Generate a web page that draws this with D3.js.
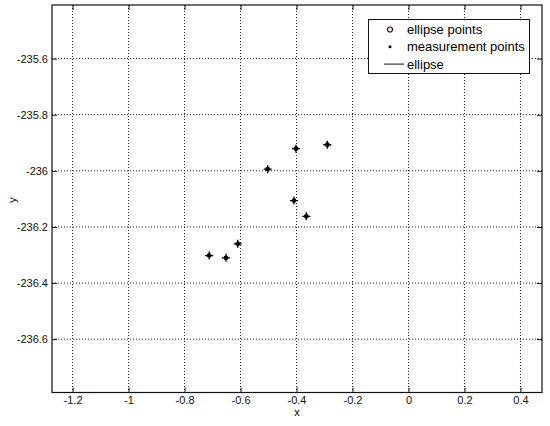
<!DOCTYPE html>
<html>
<head>
<meta charset="utf-8">
<script src="https://cdn.jsdelivr.net/npm/d3@7"></script>
<style>
  body { margin: 0; background: #fff; }
  svg { display: block; font-family: "Liberation Sans", Arial, sans-serif; }
  .grid line { stroke: #222; stroke-width: 1; stroke-dasharray: 1,2; }
  .tick-label { font-size: 11px; fill: #111; }
</style>
</head>
<body>
<div id="chart"></div>
<script>
var pointX = [-0.712, -0.652, -0.610, -0.503, -0.402, -0.290, -0.409, -0.365];
var pointY = [-236.302, -236.310, -236.260, -235.994, -235.921, -235.907, -236.106, -236.162];

var xTicks = [-1.2, -1, -0.8, -0.6, -0.4, -0.2, 0, 0.2, 0.4];
var xTickLabels = ['-1.2', '-1', '-0.8', '-0.6', '-0.4', '-0.2', '0', '0.2', '0.4'];
var yTicks = [-235.6, -235.8, -236, -236.2, -236.4, -236.6];
var yTickLabels = ['-235.6', '-235.8', '-236', '-236.2', '-236.4', '-236.6'];

var legendLabels = ['ellipse points', 'measurement points', 'ellipse'];

var width = 550, height = 426;
var plotLeft = 52, plotRight = 542, plotTop = 5, plotBottom = 392.5;

var x = d3.scaleLinear().domain([-1.2735, 0.477]).range([plotLeft, plotRight]);
var y = d3.scaleLinear().domain([-236.79, -235.409]).range([plotBottom, plotTop]);

var svg = d3.select('#chart').append('svg')
  .attr('width', width)
  .attr('height', height);

//grid
var grid = svg.append('g').attr('class', 'grid');
grid.selectAll('.gx')
  .data(xTicks)
  .enter().append('line')
    .attr('class', 'gx')
    .attr('x1', function(d) { return x(d); })
    .attr('x2', function(d) { return x(d); })
    .attr('y1', plotTop)
    .attr('y2', plotBottom);
grid.selectAll('.gy')
  .data(yTicks)
  .enter().append('line')
    .attr('class', 'gy')
    .attr('x1', plotLeft)
    .attr('x2', plotRight)
    .attr('y1', function(d) { return y(d); })
    .attr('y2', function(d) { return y(d); });

//axes, ticks pointing inward on all sides
var tickLen = 5;
svg.append('g')
  .attr('transform', 'translate(0,' + plotBottom + ')')
  .call(d3.axisBottom(x).tickValues(xTicks).tickSizeInner(-tickLen).tickSizeOuter(0)
    .tickFormat(function(d, i) { return xTickLabels[i]; }))
  .call(function(g) {
    g.selectAll('text').attr('class', 'tick-label').attr('y', 4).attr('dy', '0.71em').style('font-size', '11px');
  });
svg.append('g')
  .attr('transform', 'translate(0,' + plotTop + ')')
  .call(d3.axisTop(x).tickValues(xTicks).tickSizeInner(-tickLen).tickSizeOuter(0).tickFormat(''));
svg.append('g')
  .attr('transform', 'translate(' + plotLeft + ',0)')
  .call(d3.axisLeft(y).tickValues(yTicks).tickSizeInner(-tickLen).tickSizeOuter(0)
    .tickFormat(function(d, i) { return yTickLabels[i]; }))
  .call(function(g) {
    g.selectAll('text').attr('class', 'tick-label').attr('x', -4).style('font-size', '11px');
  });
svg.append('g')
  .attr('transform', 'translate(' + plotRight + ',0)')
  .call(d3.axisRight(y).tickValues(yTicks).tickSizeInner(-tickLen).tickSizeOuter(0).tickFormat(''));

svg.selectAll('.tick line').attr('stroke', '#111');
svg.selectAll('.domain').remove();

//frame
svg.append('rect')
  .attr('x', plotLeft).attr('y', plotTop)
  .attr('width', plotRight - plotLeft).attr('height', plotBottom - plotTop)
  .attr('fill', 'none').attr('stroke', '#111').attr('stroke-width', 1.2);

//axis titles
svg.append('text')
  .attr('x', 297).attr('y', 416)
  .attr('text-anchor', 'middle')
  .style('font-size', '11px')
  .text('x');
svg.append('text')
  .attr('transform', 'translate(16,200) rotate(-90)')
  .attr('text-anchor', 'middle')
  .style('font-size', '11px')
  .text('y');

//measurement points
var points = pointX.map(function(d, i) { return { x: d, y: pointY[i] }; });
var marks = svg.append('g').selectAll('g')
  .data(points)
  .enter().append('g')
    .attr('transform', function(d) { return 'translate(' + x(d.x) + ',' + y(d.y) + ')'; });
marks.append('path')
  .attr('d', 'M-4,0H4M0,-4V4')
  .attr('stroke', '#000').attr('stroke-width', 1.3);
marks.append('circle')
  .attr('r', 2.4)
  .attr('fill', '#000');

//legend
var legend = svg.append('g');
legend.append('rect')
  .attr('x', 368.5).attr('y', 19.5)
  .attr('width', 161).attr('height', 54)
  .attr('fill', '#fff').attr('stroke', '#111').attr('stroke-width', 1);
legend.selectAll('text')
  .data(legendLabels)
  .enter().append('text')
    .attr('x', 407)
    .attr('y', function(d, i) { return 29.5 + i * 17.3; })
    .attr('dy', '0.35em')
    .style('font-size', '13px')
    .text(function(d) { return d; });
legend.append('circle')
  .attr('cx', 390).attr('cy', 29.5).attr('r', 2.5)
  .attr('fill', 'none').attr('stroke', '#3a1010').attr('stroke-width', 1.2);
legend.append('circle')
  .attr('cx', 390).attr('cy', 46.8).attr('r', 1.5)
  .attr('fill', '#000');
legend.append('line')
  .attr('x1', 384).attr('x2', 404)
  .attr('y1', 64.1).attr('y2', 64.1)
  .attr('stroke', '#111').attr('stroke-width', 1);
</script>
</body>
</html>
